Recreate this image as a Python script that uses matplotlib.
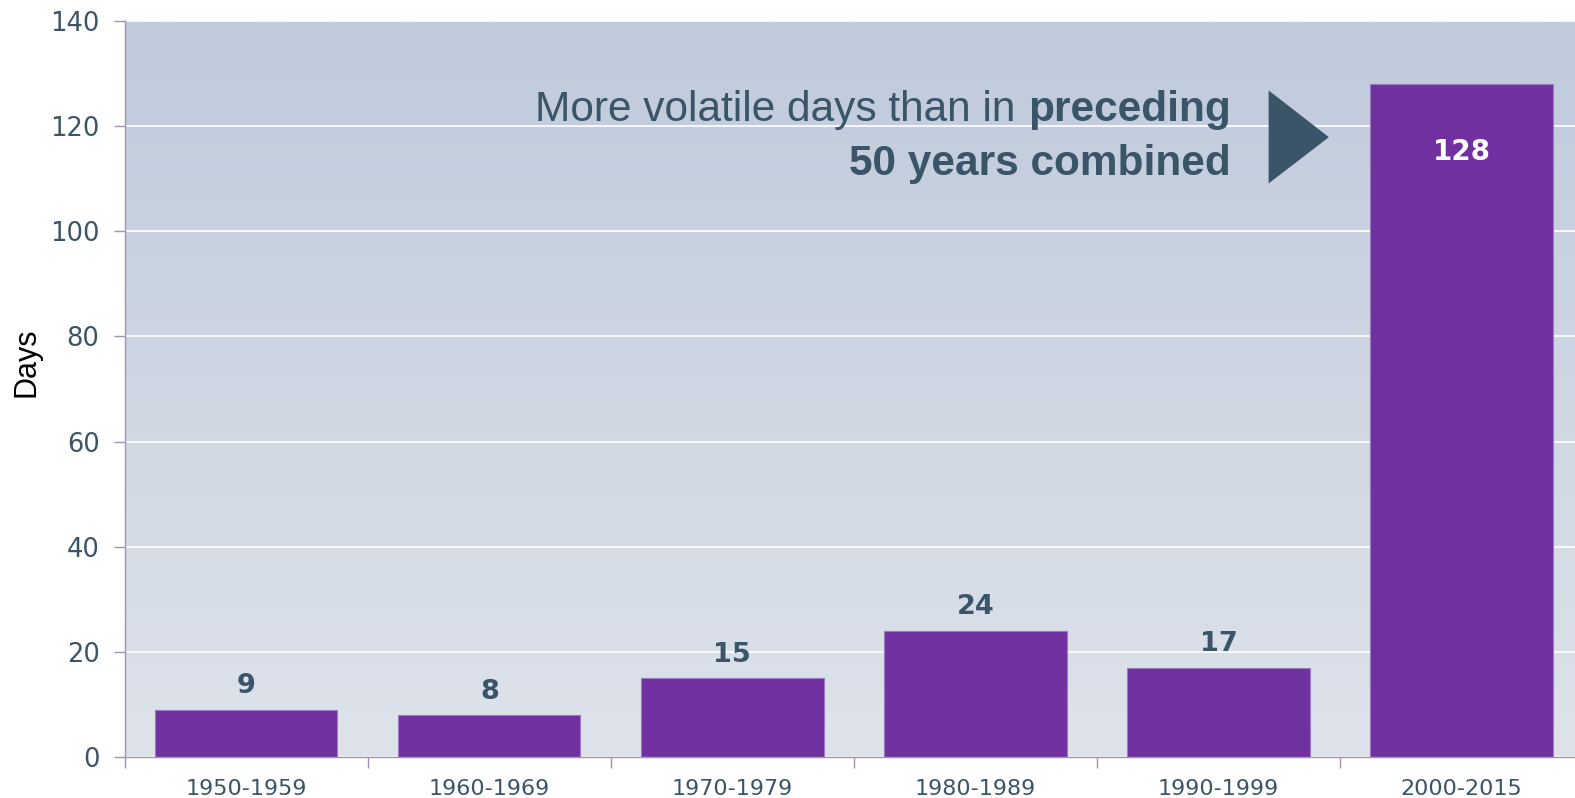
import numpy as np
import matplotlib
matplotlib.use("Agg")
import matplotlib.pyplot as plt
from matplotlib.colors import LinearSegmentedColormap
from matplotlib.patches import Polygon
from matplotlib.offsetbox import TextArea, HPacker, VPacker, AnnotationBbox

# data
decades = ["1950-1959", "1960-1969", "1970-1979", "1980-1989", "1990-1999", "2000-2015"]
days = [9, 8, 15, 24, 17, 128]
y_ticks = [0, 20, 40, 60, 80, 100, 120, 140]

BAR = "#7030A0"
TXT = "#3A5468"
SPINE = "#A391B5"

fig = plt.figure(figsize=(15.75, 7.98), dpi=100)
# plot area runs a little past the right edge of the picture
ax = fig.add_axes([124.6 / 1575, 1 - 757 / 798, 1458.6 / 1575, (757 - 21) / 798])

# background gradient, darker at the top
grad = LinearSegmentedColormap.from_list("bg", ["#DEE3EB", "#BFCADB"])
ax.imshow(np.linspace(0, 1, 256).reshape(-1, 1), cmap=grad, aspect="auto",
          origin="lower", extent=[0, 1, 0, 1], transform=ax.transAxes, zorder=0)

x = np.arange(len(decades))
bars = ax.bar(x, days, width=0.75, color=BAR, edgecolor="#9A7AC0", linewidth=0.8, zorder=3)

ax.set_xlim(-0.5, len(decades) - 0.5)
ax.set_ylim(0, 140)
ax.set_yticks(y_ticks)
ax.yaxis.grid(True, color="white", linewidth=1.2, zorder=1)
ax.set_axisbelow(False)
for gl in ax.get_ygridlines():
    gl.set_zorder(1)

# category labels centred, ticks on the boundaries
ax.set_xticks(x)
ax.set_xticklabels(decades, fontsize=16, color=TXT)
ax.tick_params(axis="x", which="major", length=0, pad=16)
ax.set_xticks(np.arange(len(decades) + 1) - 0.5, minor=True)
ax.tick_params(axis="x", which="minor", length=8, width=1, color=SPINE, direction="out")
ax.tick_params(axis="y", length=8, width=1, color=SPINE, labelsize=18.5,
               labelcolor=TXT, pad=10)

for s in ["top", "right"]:
    ax.spines[s].set_visible(False)
for s in ["left", "bottom"]:
    ax.spines[s].set_color(SPINE)
    ax.spines[s].set_linewidth(1)
    ax.spines[s].set_zorder(4)

ax.set_ylabel("Days", fontsize=22, color="black", family="Liberation Sans")
ax.yaxis.set_label_coords(-0.0572, 0.537)

# value labels
for xi, v in zip(x, days):
    if v > 100:
        ax.text(xi, v - 13.0, str(v), ha="center", va="center", fontsize=20,
                fontweight="bold", color="white", zorder=5)
    else:
        ax.annotate(str(v), (xi, v), xytext=(0, 7.5), textcoords="offset points",
                    ha="center", va="bottom", fontsize=19.5, fontweight="bold",
                    color=TXT, zorder=5)

# callout
fp = dict(color=TXT, fontsize=30.5, family="Liberation Sans")
line1 = HPacker(children=[TextArea("More volatile days than in", textprops=fp),
                          TextArea("preceding", textprops=dict(fp, fontweight="bold"))],
                align="baseline", pad=0, sep=9)
line2 = TextArea("50 years combined", textprops=dict(fp, fontweight="bold"))
box = VPacker(children=[line1, line2], align="right", pad=0, sep=10)
ab = AnnotationBbox(box, (4.05, 117.9), xycoords="data", box_alignment=(1, 0.5),
                    frameon=False, zorder=6)
ax.add_artist(ab)

tri = Polygon([[4.206, 126.8], [4.206, 109.1], [4.454, 117.9]], closed=True,
              facecolor="#3A5568", edgecolor="none", zorder=6)
ax.add_patch(tri)

fig.savefig("out.png", dpi=100)
